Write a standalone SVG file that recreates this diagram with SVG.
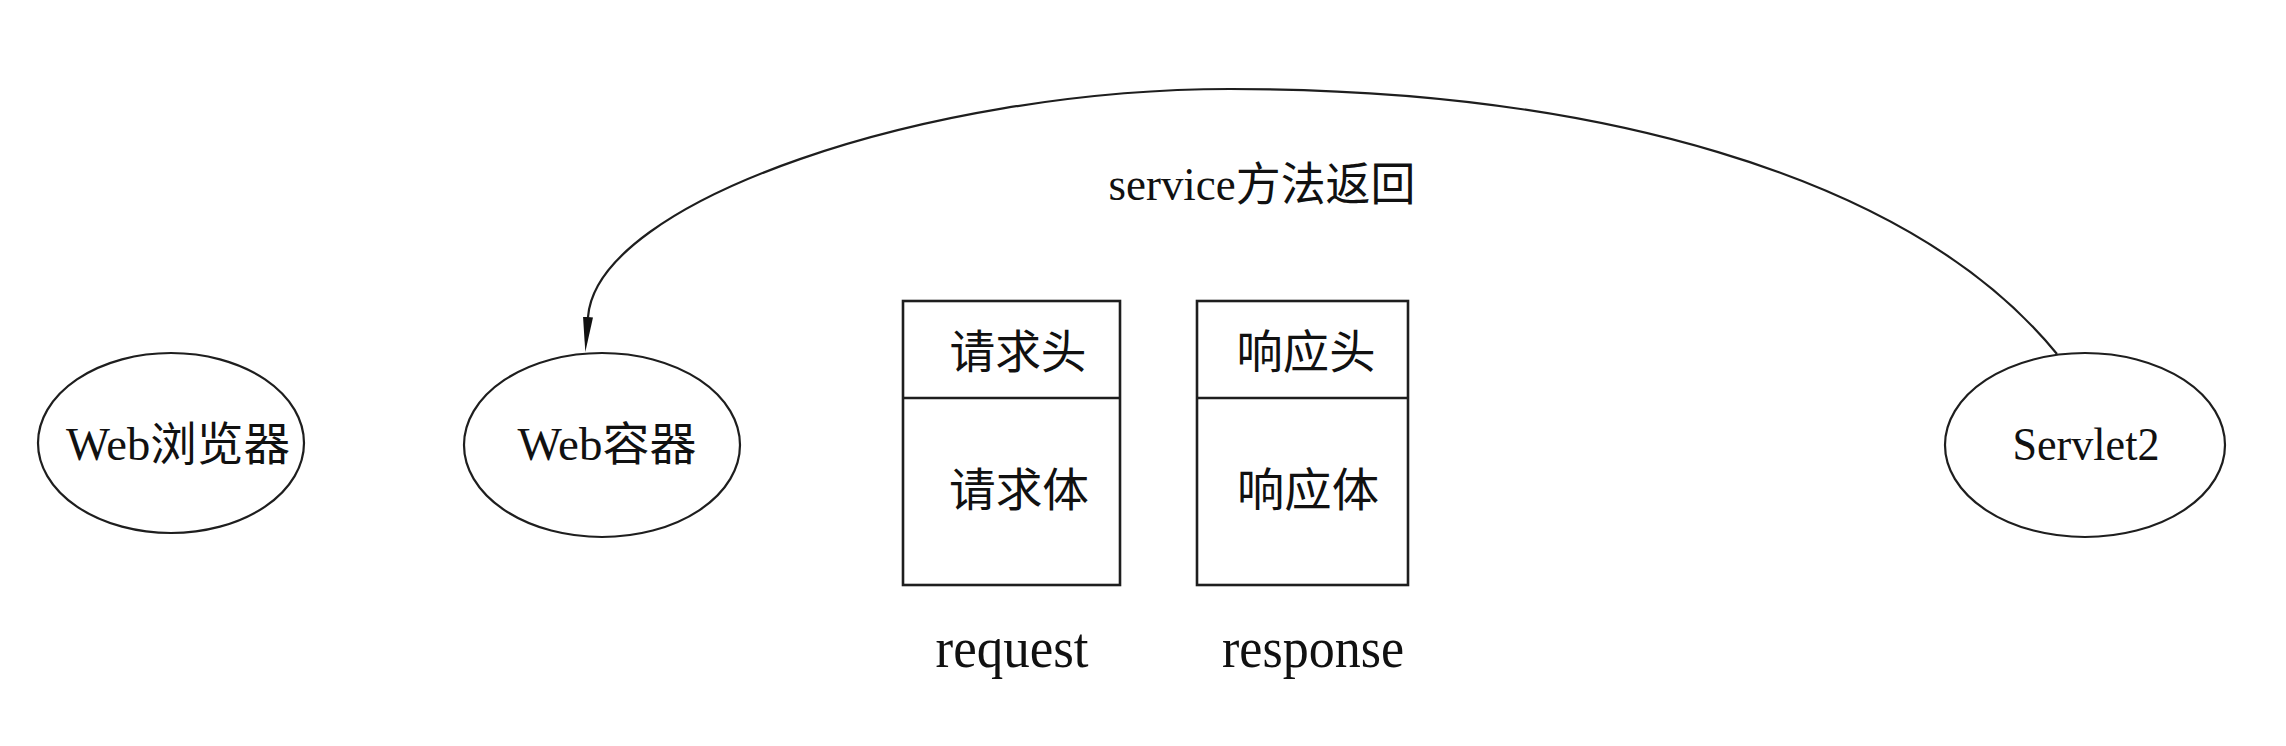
<svg xmlns="http://www.w3.org/2000/svg" width="2286" height="746" viewBox="0 0 2286 746">
<style>
.bg{fill:#ffffff}
.node{fill:#ffffff;stroke:#1e1e1e;stroke-width:2.2}
.box{fill:#ffffff;stroke:#1e1e1e;stroke-width:2.6}
.edge{fill:none;stroke:#1e1e1e;stroke-width:2.2}
.t{font-family:"Liberation Serif","Noto Sans CJK SC",serif;font-size:46px;fill:#111111;text-anchor:middle}
.lbl{font-family:"Liberation Serif","Noto Sans CJK SC",serif;font-size:56px;fill:#111111;text-anchor:middle}
</style>
<defs>
<marker id="arrow" viewBox="0 -5 35 10" refX="0" refY="0" markerWidth="35" markerHeight="10" markerUnits="userSpaceOnUse" orient="auto">
<path d="M0,-5 L35,0 L0,5 z" fill="#111111"/>
</marker>
</defs>
<rect class="bg" x="0" y="0" width="2286" height="746"/>
<g id="connectors">
<path id="edge-servlet2-webcontainer" class="edge" d="M2057,354 C1906,169 1580,89 1230,89 C930,89 597,200 588,317" marker-end="url(#arrow)"/>
<text class="t" x="1262" y="200" textLength="307" lengthAdjust="spacingAndGlyphs">service方法返回</text>
</g>
<g id="browser">
<ellipse class="node" cx="171" cy="443" rx="133" ry="90"/>
<text class="t" x="178" y="460" textLength="224" lengthAdjust="spacingAndGlyphs">Web浏览器</text>
</g>
<g id="webcontainer">
<ellipse class="node" cx="602" cy="445" rx="138" ry="92"/>
<text class="t" x="607" y="460" textLength="179" lengthAdjust="spacingAndGlyphs">Web容器</text>
</g>
<g id="servlet2">
<ellipse class="node" cx="2085" cy="445" rx="140" ry="92"/>
<text class="t" x="2086" y="460" textLength="147" lengthAdjust="spacingAndGlyphs">Servlet2</text>
</g>
<g id="request">
<rect class="box" x="903" y="301" width="217" height="284"/>
<line class="box" x1="903" y1="398" x2="1120" y2="398"/>
<text class="t" x="1018" y="368" textLength="137" lengthAdjust="spacingAndGlyphs">请求头</text>
<text class="t" x="1019" y="506" textLength="140" lengthAdjust="spacingAndGlyphs">请求体</text>
<text class="lbl" x="1012" y="667" textLength="153" lengthAdjust="spacingAndGlyphs">request</text>
</g>
<g id="response">
<rect class="box" x="1197" y="301" width="211" height="284"/>
<line class="box" x1="1197" y1="398" x2="1408" y2="398"/>
<text class="t" x="1306" y="368" textLength="139" lengthAdjust="spacingAndGlyphs">响应头</text>
<text class="t" x="1308" y="506" textLength="142" lengthAdjust="spacingAndGlyphs">响应体</text>
<text class="lbl" x="1313" y="667" textLength="182" lengthAdjust="spacingAndGlyphs">response</text>
</g>
</svg>
